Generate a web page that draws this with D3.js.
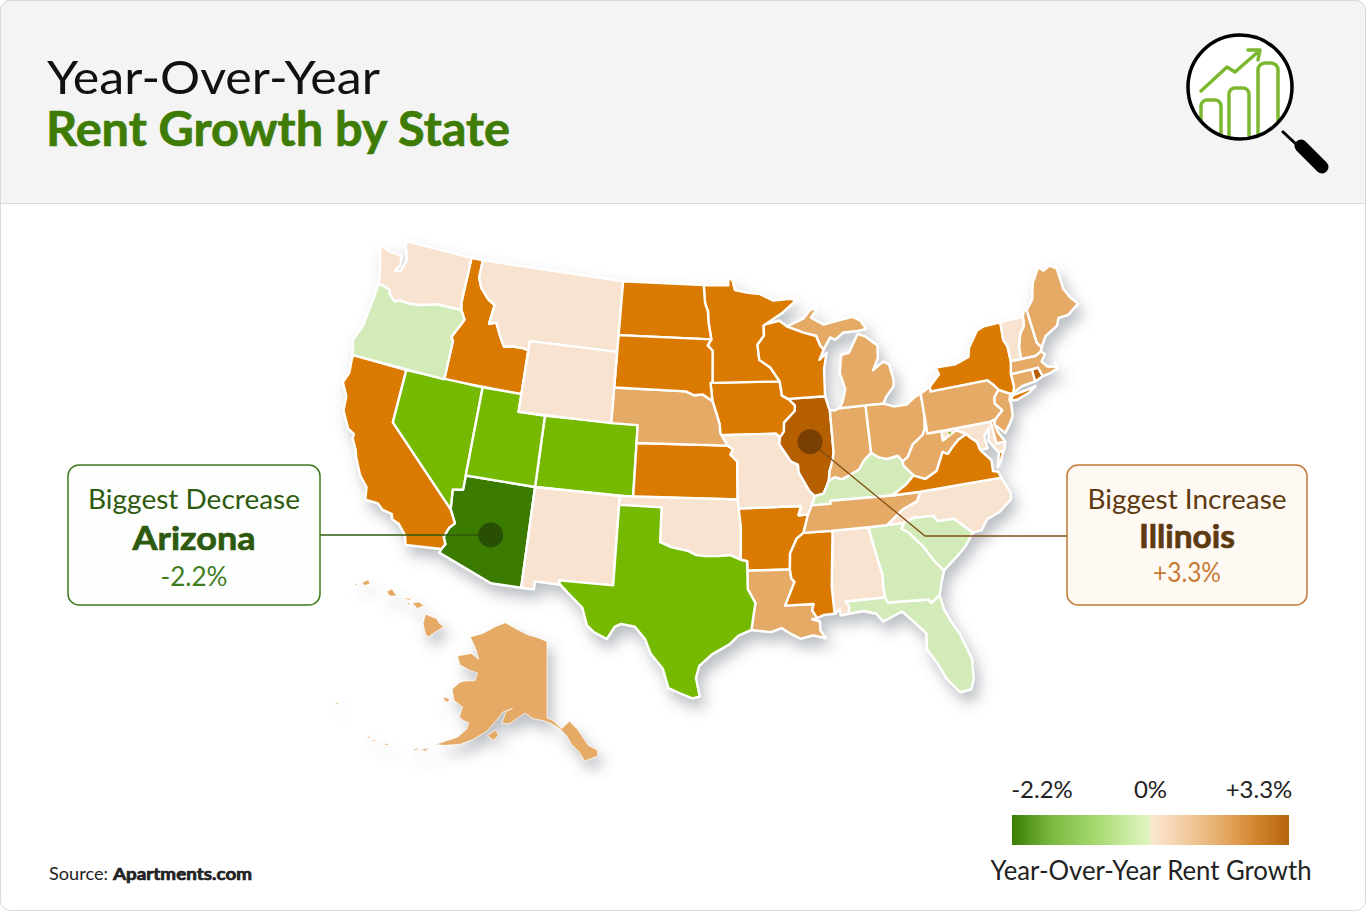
<!DOCTYPE html>
<html lang="en">
<head>
<meta charset="UTF-8" />
<title>Year-Over-Year Rent Growth by State</title>
<script src="https://cdnjs.cloudflare.com/ajax/libs/d3/7.8.5/d3.min.js"></script>
<style>
  html, body { margin: 0; padding: 0; background: #fff; }
  svg { display: block; font-family: Lato, "Noto Sans", sans-serif; }
</style>
</head>
<body>
<svg width="1366" height="911" viewBox="0 0 1366 911"></svg>
<script>
// state values (estimated per colour band)
const stateNames = ['Alabama','Alaska','Arizona','Arkansas','California','Colorado','Connecticut','Delaware','District of Columbia','Florida','Georgia','Hawaii','Idaho','Illinois','Indiana','Iowa','Kansas','Kentucky','Louisiana','Maine','Maryland','Massachusetts','Michigan','Minnesota','Mississippi','Missouri','Montana','Nebraska','Nevada','New Hampshire','New Jersey','New Mexico','New York','North Carolina','North Dakota','Ohio','Oklahoma','Oregon','Pennsylvania','Rhode Island','South Carolina','South Dakota','Tennessee','Texas','Utah','Vermont','Virginia','Washington','West Virginia','Wisconsin','Wyoming']
const stateGrowth = [0.3,1.4,-2.2,2.3,2.4,-1.0,1.5,1.3,-1.2,-0.3,-0.3,1.2,2.2,3.3,1.3,2.1,2.2,-0.2,1.2,1.4,0.4,1.3,1.5,2.2,2.3,0.4,0.3,1.4,-1.1,1.2,1.4,0.3,2.4,0.4,2.3,1.5,0.4,-0.4,1.3,3.1,-0.3,2.2,1.4,-1.2,-0.9,0.5,2.4,0.4,1.3,2.3,0.2]

const bandLimits = [-1.5,-0.5,0,1,2,3]
const bandColors = ['#3b7b03','#75b900','#d3ebb9','#f7e3cf','#e5aa66','#db7a02','#b55f05']

const legendLabels = ['-2.2%','0%','+3.3%']
const legendStops = ['#3a7d02','#79b83f','#a6d86e','#dff5c0','#fbe6d0','#e9b679','#d98e3a','#b5640a']

const callouts = [
  { state: 'Arizona', title: 'Biggest Decrease', value: '-2.2%' },
  { state: 'Illinois', title: 'Biggest Increase', value: '+3.3%' }
]

// outlines in lon/lat, same order as stateNames, each state a list of rings
const stateShapes = [
/*AL*/[[[-88.2,35],[-85.6,35],[-85.13,32.8],[-85,32.3],[-85.05,31.55],[-85,31],[-87.6,31],[-87.4,30.65],[-87.5,30.3],[-88,30.25],[-88.05,30.6],[-88.4,30.37],[-88.45,31.9],[-88.1,34.9]]],
/*AK*/[[[-141,69.65],[-141,60.3],[-139.6,60],[-137.5,58.95],[-136.5,59.4],[-135.5,59.8],[-133.8,58.7],[-131.8,56.6],[-130,55.9],[-130.1,55.2],[-131.5,55],[-133,54.8],[-134,56],[-135.5,57],[-136.5,58.1],[-138,59],[-139.8,59.6],[-142,60],[-144.5,60.2],[-146.5,60.8],[-148.5,60],[-150,59.3],[-151.8,59.2],[-151.3,60.7],[-149.8,61.2],[-152,60.6],[-153.2,59.5],[-155,57.9],[-157.5,56.6],[-160,55.6],[-163,54.9],[-165,54.6],[-163,55.5],[-161,56.3],[-159.5,57.6],[-159.5,58.4],[-161,58.5],[-162,58.7],[-162,60],[-164.5,60.4],[-166,61.6],[-164.8,62.7],[-163.5,63.1],[-161,63.5],[-161,64.5],[-163,64.5],[-166.5,64.7],[-168.1,65.6],[-164.5,66.5],[-161.8,66.1],[-163.5,67.1],[-166.7,68.35],[-163.2,69.3],[-160,70.5],[-156.6,71.35],[-152,70.85],[-148,70.35],[-144,70.05]],
  [[-154.6,57.4],[-153,57],[-152.2,57.7],[-152.9,58.3],[-153.8,57.9]],[[-167.4,60.2],[-166,59.85],[-165.6,60.3],[-166.4,60.4]],[[-167.5,53.3],[-166,53.9],[-166.4,53.4]],[[-169,52.9],[-167.9,53.5],[-168.1,53.1]],[[-174.9,52],[-173.6,52.3],[-173.9,52]],[[-177,51.7],[-176.3,52],[-176.5,51.65]],[[-178.2,51.7],[-177.6,52],[-177.7,51.65]],[[172.6,52.85],[173.4,53],[173.3,52.75]]],
/*AZ*/[[[-114.04,37],[-109.05,37],[-109.05,31.33],[-111.07,31.33],[-114.81,32.5],[-114.72,32.72],[-114.52,33.03],[-114.72,33.4],[-114.5,33.95],[-114.15,34.27],[-114.63,35],[-114.75,36.1],[-114.04,36.2]]],
/*AR*/[[[-94.62,36.5],[-90.15,36.5],[-90.37,36],[-89.7,36],[-90.1,35],[-90.6,34.7],[-91.1,33.9],[-91.17,33],[-94.04,33.02],[-94.04,33.55],[-94.48,33.64],[-94.43,35.4]]],
/*CA*/[[[-124.21,42],[-120,42],[-120,39],[-114.63,35],[-114.15,34.27],[-114.5,33.95],[-114.72,33.4],[-114.52,33.03],[-114.72,32.72],[-117.13,32.53],[-117.3,33.05],[-117.9,33.6],[-118.4,33.75],[-118.5,34.03],[-119.2,34.15],[-119.6,34.42],[-120.5,34.45],[-120.65,35.15],[-121.3,35.7],[-121.9,36.6],[-122.05,36.95],[-122.5,37.55],[-122.5,37.8],[-123,38],[-123.7,38.9],[-123.8,39.7],[-124.35,40.4],[-124.1,41],[-124.21,41.75]]],
/*CO*/[[[-109.05,41],[-102.05,41],[-102.05,37],[-109.05,37]]],
/*CT*/[[[-73.5,42.05],[-71.8,42.02],[-71.85,41.32],[-72.9,41.25],[-73.65,41],[-73.5,41.3]]],
/*DE*/[[[-75.79,39.72],[-75.4,39.8],[-75.55,39.5],[-75.4,39.05],[-75.05,38.45],[-75.7,38.46]]],
/*DC*/[[[-79.05,39.62],[-78.75,39.62],[-78.85,39.4]]],
/*FL*/[[[-87.6,31],[-85,31],[-84.86,30.7],[-82.2,30.57],[-82.05,30.36],[-81.45,30.72],[-81.3,29.9],[-80.9,29],[-80.55,28.4],[-80.05,26.9],[-80.15,25.75],[-80.4,25.2],[-81.1,25.13],[-81.8,26],[-82.2,26.9],[-82.75,27.8],[-82.65,28.7],[-83.4,29.5],[-84,30.1],[-84.35,30],[-85.3,29.68],[-85.7,30.15],[-86.5,30.38],[-87.5,30.3],[-87.4,30.65]]],
/*GA*/[[[-85.6,35],[-83.1,35],[-83.35,34.7],[-82.9,34.45],[-82,33.5],[-81.4,32.6],[-80.9,32.05],[-81.15,31.5],[-81.45,30.72],[-82.05,30.36],[-82.2,30.57],[-84.86,30.7],[-85,31],[-85.05,31.55],[-85,32.3],[-85.13,32.8]]],
/*HI*/[[[-155.9,20.25],[-155.2,19.97],[-155.08,19.73],[-154.8,19.52],[-155.6,19.05],[-155.68,18.92],[-155.9,19.1],[-156.05,19.7]],[[-156.7,20.9],[-156.3,20.95],[-156,20.75],[-156.4,20.58],[-156.6,20.8]],[[-157.3,21.2],[-156.75,21.15],[-156.9,21.05]],[[-158.25,21.55],[-157.95,21.7],[-157.65,21.3],[-158.1,21.3]],[[-159.78,22.05],[-159.4,22.23],[-159.3,22],[-159.6,21.9]],[[-160.25,21.95],[-160.05,22],[-160.1,21.88]],[[-157.05,20.9],[-156.85,20.9],[-156.9,20.75]]],
/*ID*/[[[-117.03,49],[-116.05,49],[-116.05,48],[-115.7,47.45],[-114.95,46.9],[-114.35,46.65],[-114.5,45.55],[-113.95,45.7],[-113.45,45],[-113,44.45],[-112.3,44.55],[-111.5,44.55],[-111.05,44.48],[-111.05,42],[-117.03,42],[-117.03,44.2],[-117.22,44.4],[-116.85,44.95],[-116.5,45.5],[-116.92,46],[-117.04,46.42]]],
/*IL*/[[[-90.65,42.5],[-87.8,42.5],[-87.6,41.85],[-87.53,41.7],[-87.53,39.35],[-87.65,38.9],[-87.95,38.3],[-88.05,37.8],[-88.5,37.1],[-89.15,37],[-89.5,37.3],[-90.2,38.4],[-90.2,38.8],[-90.7,39],[-91.5,40],[-91.42,40.38],[-91.1,40.7],[-91.05,41.2],[-90.2,41.8],[-90.15,42.1]]],
/*IN*/[[[-87.53,41.7],[-87.2,41.65],[-86.8,41.76],[-84.8,41.76],[-84.8,39.1],[-85.4,38.7],[-85.8,38.25],[-86.5,38],[-87.1,37.8],[-87.6,37.95],[-88.05,37.8],[-87.95,38.3],[-87.65,38.9],[-87.53,39.35]]],
/*IA*/[[[-96.45,43.5],[-91.22,43.5],[-91.1,42.7],[-90.65,42.5],[-90.15,42.1],[-90.2,41.8],[-91.05,41.2],[-91.1,40.7],[-91.42,40.38],[-91.7,40.6],[-95.77,40.58],[-95.85,40.7],[-95.9,41.2],[-96.1,41.7],[-96.45,42.49],[-96.6,43.5]]],
/*KS*/[[[-102.05,40],[-95.31,40],[-94.9,39.8],[-95.1,39.5],[-94.61,39.11],[-94.62,37],[-102.05,37]]],
/*KY*/[[[-89.4,36.5],[-89.15,37],[-88.5,37.1],[-88.05,37.8],[-87.6,37.95],[-87.1,37.8],[-86.5,38],[-85.8,38.25],[-85.4,38.7],[-84.8,39.1],[-84.3,38.8],[-83.7,38.65],[-82.9,38.75],[-82.6,38.4],[-82.6,38.17],[-81.97,37.54],[-82.7,37.05],[-83.68,36.6],[-88.05,36.67],[-88.07,36.5]]],
/*LA*/[[[-94.04,33.02],[-91.17,33],[-91.1,32.5],[-90.9,32.3],[-91.6,31],[-89.73,31],[-89.85,30.65],[-89.55,30.2],[-89.9,30.15],[-89.4,30],[-89.4,29.5],[-89.1,29.05],[-89.9,29.25],[-90.7,29.1],[-91.4,29.45],[-91.9,29.75],[-92.6,29.55],[-93.85,29.7],[-93.7,30.5],[-93.55,31.2],[-94.04,32]]],
/*ME*/[[[-71.08,45.3],[-70.4,45.8],[-70.25,46.2],[-70,46.7],[-69.23,47.46],[-68.9,47.18],[-68.3,47.36],[-67.8,47.07],[-67.78,45.9],[-67.45,45.3],[-67,44.85],[-68,44.4],[-68.8,44.4],[-69.1,44],[-70.2,43.6],[-70.7,43.07],[-70.98,43.4]]],
/*MD*/[[[-79.48,39.72],[-75.79,39.72],[-75.7,38.46],[-75.05,38.45],[-75.25,38.03],[-75.65,37.95],[-75.9,38.25],[-76.2,38.7],[-76,39.4],[-76.45,39],[-76.4,38.3],[-76.95,38.3],[-77.05,38.75],[-77.5,39.1],[-77.72,39.32],[-78.4,39.62],[-79.48,39.2]]],
/*MA*/[[[-73.5,42.05],[-73.27,42.75],[-71.3,42.7],[-70.85,42.87],[-70.6,42.65],[-71,42.3],[-70.65,41.95],[-70,41.8],[-70,42.05],[-69.95,41.7],[-70.65,41.55],[-71.2,41.5],[-71.38,42.02],[-71.8,42.02]]],
/*MI*/[[[-86.8,41.76],[-84.8,41.76],[-83.45,41.73],[-83.15,42.1],[-82.5,42.6],[-82.42,43],[-82.6,43.85],[-83,44.05],[-83.4,43.9],[-83.9,43.65],[-83.4,44.3],[-83.3,45],[-84.2,45.6],[-84.75,45.78],[-85.1,45.4],[-85.6,44.8],[-86.25,44.7],[-86.5,43.7],[-86.2,42.8],[-86.5,42.1]],
  [[-90.4,46.55],[-89,46.95],[-88.4,47.4],[-87.8,47.47],[-88.4,46.95],[-87.4,46.5],[-86.1,46.67],[-85,46.77],[-84.4,46.5],[-84,46],[-84.75,45.95],[-85.9,45.95],[-86.6,45.6],[-87,45.75],[-87.6,45.1],[-87.85,45.35],[-88.1,45.9],[-89.1,46.15]]],
/*MN*/[[[-97.23,49],[-95.15,49],[-95.15,49.38],[-94.8,49.3],[-94.6,48.72],[-93.5,48.55],[-92.5,48.45],[-91.4,48.05],[-90,48.1],[-89.5,48],[-90.8,47.3],[-92.1,46.75],[-92.3,46.66],[-92.3,46.1],[-92.85,45.6],[-92.75,44.75],[-91.9,44.3],[-91.22,43.5],[-96.45,43.5],[-96.45,45.3],[-96.85,45.6],[-96.56,45.94],[-96.8,46.9],[-96.85,47.5],[-97.1,48]]],
/*MS*/[[[-90.1,35],[-88.2,35],[-88.1,34.9],[-88.45,31.9],[-88.4,30.37],[-89.1,30.35],[-89.55,30.2],[-89.85,30.65],[-89.73,31],[-91.6,31],[-90.9,32.3],[-91.1,32.5],[-91.17,33],[-91.1,33.9],[-90.6,34.7]]],
/*MO*/[[[-95.77,40.58],[-91.7,40.6],[-91.42,40.38],[-91.5,40],[-90.7,39],[-90.2,38.8],[-90.2,38.4],[-89.5,37.3],[-89.15,37],[-89.4,36.5],[-89.7,36],[-90.37,36],[-90.15,36.5],[-94.62,36.5],[-94.62,37],[-94.61,39.11],[-95.1,39.5],[-94.9,39.8],[-95.31,40]]],
/*MT*/[[[-116.05,49],[-104.05,49],[-104.05,45],[-111.05,45],[-111.05,44.48],[-111.5,44.55],[-112.3,44.55],[-113,44.45],[-113.45,45],[-113.95,45.7],[-114.5,45.55],[-114.35,46.65],[-114.95,46.9],[-115.7,47.45],[-116.05,48]]],
/*NE*/[[[-104.05,43],[-98.5,43],[-97.9,42.8],[-97.2,42.85],[-96.45,42.49],[-96.1,41.7],[-95.9,41.2],[-95.85,40.7],[-95.31,40],[-102.05,40],[-102.05,41],[-104.05,41]]],
/*NV*/[[[-120,42],[-114.04,42],[-114.04,36.2],[-114.75,36.1],[-114.63,35],[-120,39]]],
/*NH*/[[[-71.5,45],[-71.3,45.3],[-71.08,45.3],[-70.98,43.4],[-70.7,43.07],[-70.85,42.87],[-71.3,42.7],[-72.46,42.73],[-72.4,43.4],[-72.05,44.1],[-71.6,44.5]]],
/*NJ*/[[[-74.7,41.36],[-73.9,41],[-74.05,40.65],[-74,40.4],[-74.1,39.75],[-74.4,39.4],[-74.9,38.93],[-75.3,39.3],[-75.55,39.5],[-75.4,39.8],[-74.75,40.2],[-75.2,40.65],[-75.13,40.98]]],
/*NM*/[[[-109.05,37],[-103,37],[-103,32],[-106.62,32],[-106.53,31.78],[-108.21,31.78],[-108.21,31.33],[-109.05,31.33]]],
/*NY*/[[[-79.76,42.27],[-78.9,42.85],[-79.05,43.27],[-77.5,43.25],[-76.4,43.5],[-76.2,44],[-75.3,44.85],[-74.7,45],[-73.35,45],[-73.45,44],[-73.25,43.6],[-73.27,42.75],[-73.5,42.05],[-73.5,41.3],[-73.65,41],[-73.9,41],[-74.7,41.36],[-75.05,41.75],[-75.35,42],[-79.76,42]],
  [[-74,40.6],[-73.7,40.88],[-72.6,40.98],[-71.9,41.07],[-72.5,40.8],[-73.5,40.58]]],
/*NC*/[[[-81.68,36.59],[-75.87,36.55],[-75.45,35.6],[-75.55,35.25],[-76.5,34.7],[-77.4,34.45],[-77.95,33.9],[-78.55,33.86],[-79.67,34.8],[-80.8,34.82],[-81.05,35.15],[-82.4,35.2],[-83.1,35],[-84.3,35],[-83.1,35.75],[-82,36.1]]],
/*ND*/[[[-104.05,49],[-97.23,49],[-97.1,48],[-96.85,47.5],[-96.8,46.9],[-96.56,45.94],[-104.05,45.94]]],
/*OH*/[[[-84.8,41.76],[-83.45,41.73],[-82.7,41.5],[-81.7,41.5],[-81,41.85],[-80.52,41.98],[-80.52,40.64],[-80.65,40],[-80.87,39.7],[-81.7,39.25],[-82.2,38.6],[-82.6,38.4],[-82.9,38.75],[-83.7,38.65],[-84.3,38.8],[-84.8,39.1]]],
/*OK*/[[[-103,37],[-94.62,37],[-94.43,35.4],[-94.48,33.64],[-95.2,33.9],[-96,33.85],[-96.9,33.85],[-97.5,33.9],[-98.1,34.13],[-99.2,34.3],[-100,34.56],[-100,36.5],[-103,36.5]]],
/*OR*/[[[-123.95,46.25],[-123.4,46.2],[-122.95,46.1],[-122.8,45.85],[-122.3,45.55],[-121.9,45.68],[-121.2,45.65],[-120.2,45.73],[-119.3,45.93],[-118.98,46],[-116.92,46],[-116.5,45.5],[-116.85,44.95],[-117.22,44.4],[-117.03,44.2],[-117.03,42],[-124.21,42],[-124.4,42.4],[-124.55,42.85],[-124.15,43.7],[-124.05,44.7],[-123.95,45.5]]],
/*PA*/[[[-80.52,41.98],[-79.76,42.27],[-79.76,42],[-75.35,42],[-75.05,41.75],[-74.7,41.36],[-75.13,40.98],[-75.2,40.65],[-74.75,40.2],[-75.4,39.8],[-75.79,39.72],[-80.52,39.72]]],
/*RI*/[[[-71.85,42.01],[-71.38,42.02],[-71.2,41.5],[-71.85,41.32]]],
/*SC*/[[[-83.1,35],[-82.4,35.2],[-81.05,35.15],[-80.8,34.82],[-79.67,34.8],[-78.55,33.86],[-79.2,33.2],[-79.9,32.7],[-80.9,32.05],[-81.4,32.6],[-82,33.5],[-82.9,34.45],[-83.35,34.7]]],
/*SD*/[[[-104.05,45.94],[-96.56,45.94],[-96.85,45.6],[-96.45,45.3],[-96.45,43.5],[-96.6,43.5],[-96.45,42.49],[-97.2,42.85],[-97.9,42.8],[-98.5,43],[-104.05,43]]],
/*TN*/[[[-89.7,36],[-89.4,36.5],[-88.07,36.5],[-88.05,36.67],[-83.68,36.6],[-81.68,36.59],[-82,36.1],[-83.1,35.75],[-84.3,35],[-85.6,35],[-88.2,35],[-90.1,35]]],
/*TX*/[[[-103,36.5],[-100,36.5],[-100,34.56],[-99.2,34.3],[-98.1,34.13],[-97.5,33.9],[-96.9,33.85],[-96,33.85],[-95.2,33.9],[-94.48,33.64],[-94.04,33.55],[-94.04,33.02],[-94.04,32],[-93.55,31.2],[-93.7,30.5],[-93.85,29.7],[-94.7,29.4],[-95.3,28.9],[-96.4,28.35],[-97.2,27.7],[-97.4,27],[-97.15,25.96],[-97.6,25.85],[-98.3,26.1],[-99.1,26.4],[-99.5,27.5],[-100.3,28.3],[-100.7,29.1],[-101.4,29.77],[-102.3,29.88],[-102.7,29.7],[-103.15,28.98],[-104,29.3],[-104.5,29.65],[-104.9,30.6],[-106,31.4],[-106.53,31.78],[-106.62,32],[-103,32]]],
/*UT*/[[[-114.04,42],[-111.05,42],[-111.05,41],[-109.05,41],[-109.05,37],[-114.04,37]]],
/*VT*/[[[-73.35,45],[-71.5,45],[-71.6,44.5],[-72.05,44.1],[-72.4,43.4],[-72.46,42.73],[-73.27,42.75],[-73.25,43.6],[-73.45,44]]],
/*VA*/[[[-83.68,36.6],[-81.68,36.59],[-75.87,36.55],[-76,36.9],[-76.35,37],[-76.3,37.6],[-76.95,38.3],[-77.05,38.75],[-77.5,39.1],[-77.72,39.32],[-78.35,39.1],[-78.87,38.76],[-79.3,38.42],[-79.65,38.58],[-80.3,37.6],[-81.2,37.25],[-81.97,37.54],[-82.7,37.05]],
  [[-75.95,37.15],[-75.65,37.95],[-75.3,38],[-75.7,37.4]]],
/*WA*/[[[-124.73,48.38],[-123.9,48.16],[-123.15,48.15],[-122.75,48.1],[-122.65,47.6],[-122.95,47.2],[-122.5,47.3],[-122.35,47.7],[-122.25,48],[-122.5,48.45],[-122.76,49],[-117.03,49],[-117.04,46.42],[-116.92,46],[-118.98,46],[-119.3,45.93],[-120.2,45.73],[-121.2,45.65],[-121.9,45.68],[-122.3,45.55],[-122.8,45.85],[-122.95,46.1],[-123.4,46.2],[-123.95,46.25],[-124.05,46.7],[-124.15,47],[-124.4,47.6]]],
/*WV*/[[[-80.52,40.64],[-80.52,39.72],[-79.48,39.72],[-79.48,39.2],[-78.4,39.62],[-77.72,39.32],[-78.35,39.1],[-78.87,38.76],[-79.3,38.42],[-79.65,38.58],[-80.3,37.6],[-81.2,37.25],[-81.97,37.54],[-82.6,38.17],[-82.6,38.4],[-82.2,38.6],[-81.7,39.25],[-80.87,39.7],[-80.65,40]]],
/*WI*/[[[-92.3,46.66],[-92.1,46.75],[-91,46.9],[-90.4,46.55],[-89.1,46.15],[-88.1,45.9],[-87.85,45.35],[-87.6,45.1],[-88,44.55],[-87.4,44.9],[-87.7,44],[-87.8,42.5],[-90.65,42.5],[-91.1,42.7],[-91.22,43.5],[-91.9,44.3],[-92.75,44.75],[-92.85,45.6],[-92.3,46.1]]],
/*WY*/[[[-111.05,45],[-104.05,45],[-104.05,41],[-111.05,41]]]
]

const svg = d3.select('svg')

// d3 wants clockwise rings, the lists above are not all that way
function toFeature(name, i) {
  const polys = stateShapes[i].map(ring => {
    const poly = { type: 'Polygon', coordinates: [[...ring, ring[0]]] }
    if (d3.geoArea(poly) > 2 * Math.PI) poly.coordinates[0].reverse()
    return poly.coordinates
  })
  return { type: 'Feature', properties: { name, growth: stateGrowth[i] }, geometry: { type: 'MultiPolygon', coordinates: polys } }
}
const states = stateNames.map(toFeature)

// projections, lower 48 plus the two insets
const lower48 = d3.geoAlbers().scale(1020).translate([710, 469])
const alaska = d3.geoConicEqualArea().rotate([141, 0]).center([0, 60.3]).parallels([55, 65]).scale(470).translate([547, 718])
const hawaii = d3.geoConicEqualArea().rotate([157, 0]).center([-3, 19.9]).parallels([8, 18]).scale(1000).translate([358, 620])

const pathFor = d => d3.geoPath(d.properties.name === 'Alaska' ? alaska : d.properties.name === 'Hawaii' ? hawaii : lower48)(d)
const color = d3.scaleThreshold().domain(bandLimits).range(bandColors)
const thinEdge = ['Alaska', 'Hawaii', 'District of Columbia']

const defs = svg.append('defs')
const shadow = defs.append('filter').attr('id', 'shadow').attr('x', '-10%').attr('y', '-10%').attr('width', '125%').attr('height', '130%')
shadow.append('feDropShadow').attr('dx', 5).attr('dy', 9).attr('stdDeviation', 7).attr('flood-color', '#5a5f6a').attr('flood-opacity', 0.4)

const grad = defs.append('linearGradient').attr('id', 'legendGrad')
const stopAt = [0, 0.14, 0.3, 0.49, 0.51, 0.72, 0.85, 1]
legendStops.forEach((c, i) => grad.append('stop').attr('offset', stopAt[i]).attr('stop-color', c))

defs.append('clipPath').attr('id', 'lens').append('circle').attr('cx', 1240).attr('cy', 87).attr('r', 52)

// page and header
svg.append('rect').attr('x', 0.5).attr('y', 0.5).attr('width', 1365).attr('height', 910).attr('rx', 10).attr('fill', '#fff').attr('stroke', '#d9d9d9')
svg.append('path').attr('d', 'M0.5,203.5V10.5a10,10 0 0 1 10,-10H1355.5a10,10 0 0 1 10,10V203.5Z').attr('fill', '#f4f4f4').attr('stroke', '#d9d9d9')

// text helper, width is forced since the original font is not installed
function label(x, y, txt, size, fill, weight, anchor, width) {
  const t = svg.append('text').attr('x', x).attr('y', y).attr('font-size', size).attr('fill', fill)
    .attr('font-weight', weight || 400).attr('text-anchor', anchor || 'start').text(txt)
  if (weight >= 700) t.attr('stroke', fill).attr('stroke-width', 0.7)
  if (width) t.attr('textLength', width).attr('lengthAdjust', 'spacingAndGlyphs')
  return t
}
label(47, 94, 'Year-Over-Year', 47, '#111', 400, 'start', 333)
label(46, 146, 'Rent Growth by State', 47, '#3f7c06', 700, 'start', 464)

// magnifier icon
const icon = svg.append('g')
icon.append('circle').attr('cx', 1240).attr('cy', 87).attr('r', 52).attr('fill', '#fff')
const lens = icon.append('g').attr('clip-path', 'url(#lens)').attr('fill', 'none').attr('stroke', '#7cb82f').attr('stroke-width', 3.5).attr('stroke-linejoin', 'round').attr('stroke-linecap', 'round')
lens.append('path').attr('d', 'M1201,145V106a6,6 0 0 1 6,-6h8a6,6 0 0 1 6,6V145')
lens.append('path').attr('d', 'M1229,145V94a6,6 0 0 1 6,-6h8a6,6 0 0 1 6,6V145')
lens.append('path').attr('d', 'M1258,145V70a7,7 0 0 1 7,-7h6a7,7 0 0 1 7,7V145')
lens.append('path').attr('d', 'M1201,91L1227,67L1235,72L1259,51M1248,50H1260L1258,60')
icon.append('circle').attr('cx', 1240).attr('cy', 87).attr('r', 52).attr('fill', 'none').attr('stroke', '#000').attr('stroke-width', 3.5)
icon.append('line').attr('x1', 1282).attr('y1', 131).attr('x2', 1297).attr('y2', 145).attr('stroke', '#000').attr('stroke-width', 3)
icon.append('line').attr('x1', 1301).attr('y1', 146).attr('x2', 1322).attr('y2', 167).attr('stroke', '#000').attr('stroke-width', 13).attr('stroke-linecap', 'round')

// the map, small shapes get a thin edge or the white eats them
svg.append('g').attr('filter', 'url(#shadow)')
  .selectAll('path').data(states).join('path')
  .attr('d', pathFor)
  .attr('fill', d => color(d.properties.growth))
  .attr('stroke', '#fff').attr('stroke-width', d => thinEdge.includes(d.properties.name) ? 0.6 : 2.4).attr('stroke-linejoin', 'round')
  .filter(d => d.properties.name === 'District of Columbia').raise()

// callouts
const boxes = [
  { x: 68, w: 252, fill: '#fdfffc', stroke: '#3e7a1e', head: '#2e5a0f', num: '#3f7c1f', dot: '#284f04', line: '#2c5a0c', tw: 212, nw: 123, vw: 67, ny: 550, ty: 509, vy: 586 },
  { x: 1067, w: 240, fill: '#fff9f4', stroke: '#c47a35', head: '#5d3a10', num: '#c57a33', dot: '#7a4003', line: '#7f4f14', tw: 199, nw: 96, vw: 68, ny: 548, ty: 509, vy: 582 }
]
callouts.forEach((c, i) => {
  const b = boxes[i]
  const cx = b.x + b.w / 2
  const [mx, my] = lower48(d3.geoCentroid(states.find(s => s.properties.name === c.state)))
  const pts = i === 0 ? [[b.x + b.w, 535], [mx, 535]] : [[mx, my], [925, 536], [b.x, 536]]
  svg.append('path').attr('d', d3.line()(pts)).attr('fill', 'none').attr('stroke', b.line).attr('stroke-width', 1.3)
  svg.append('circle').attr('cx', mx).attr('cy', i === 0 ? 535 : my).attr('r', 12.5).attr('fill', b.dot)
  svg.append('rect').attr('x', b.x).attr('y', 465).attr('width', b.w).attr('height', 140).attr('rx', 11)
    .attr('fill', b.fill).attr('stroke', b.stroke).attr('stroke-width', 1.5)
  label(cx, b.ty, c.title, 27, b.head, 400, 'middle', b.tw)
  label(cx, b.ny, c.state, 33, b.head, 700, 'middle', b.nw)
  label(cx, b.vy, c.value, 27, b.num, 400, 'middle', b.vw)
})

// legend
const legendX = d3.scalePoint().domain(legendLabels).range([1042, 1259])
legendLabels.forEach(l => label(legendX(l), 798, l, 24, '#222', 400, 'middle'))
svg.append('rect').attr('x', 1012).attr('y', 815).attr('width', 277).attr('height', 30).attr('fill', 'url(#legendGrad)')
label(1151, 880, 'Year-Over-Year Rent Growth', 26, '#222', 400, 'middle', 321)

// source
label(49, 880, 'Source:', 17, '#222', 400, 'start', 59)
label(113, 880, 'Apartments.com', 17, '#222', 700, 'start', 139)
</script>
</body>
</html>
